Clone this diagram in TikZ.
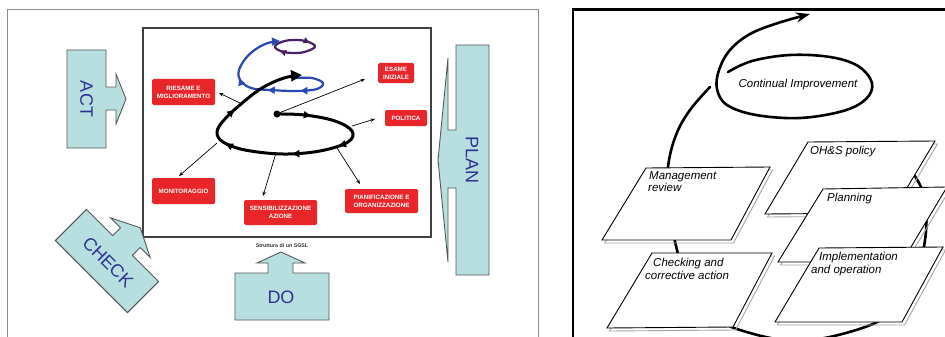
\documentclass[tikz,border=0pt]{standalone}
\usepackage{fontspec}
\setmainfont{Liberation Sans}
\usetikzlibrary{arrows.meta,decorations.markings}
\definecolor{tealfill}{RGB}{184,223,223}
\definecolor{shapeedge}{RGB}{85,85,85}
\definecolor{pdcablue}{RGB}{46,49,146}
\definecolor{labelred}{RGB}{232,38,42}
\definecolor{spiralblue}{RGB}{40,72,180}
\definecolor{spiralpurple}{RGB}{72,30,100}
\begin{document}
\begin{tikzpicture}[x=1pt,y=-1pt,
  pdca/.style={fill=tealfill,draw=shapeedge,line width=0.9pt,line join=miter},
  pdcatext/.style={text=pdcablue,font=\fontsize{18}{18}\selectfont,inner sep=0pt},
  redlabel/.style={fill=labelred,text=white,rounded corners=1.5pt,
    font=\fontsize{6.2}{7.8}\selectfont\bfseries,align=center,inner sep=0pt},
  thinarrow/.style={-{Stealth[length=4.5pt,width=3.5pt]},line width=0.7pt},
  spiral/.style={line width=3pt,line cap=round,line join=round},
  bluepath/.style={draw=spiralblue,line width=2.2pt,line cap=round,line join=round},
  loopline/.style={line width=2.6pt,line cap=round},
  panelbox/.style={draw=black,fill=white,line width=0.9pt,line join=miter},
  boxshadow/.style={draw=black!35,line width=0.9pt},
  paneltext/.style={font=\fontsize{11.5}{13}\selectfont\itshape,align=left,
    anchor=north west,inner sep=0pt},
  midtip/.style={decoration={markings,mark=at position #1 with {\arrow{Triangle[length=6pt,width=6pt]}}},postaction={decorate}}
]
\useasboundingbox (0,0) rectangle (945,337);
\fill[white] (0,0) rectangle (945,337);

% ---------------- left panel ----------------
\draw[draw=black!45,line width=0.8pt] (7,345) -- (7,9.3) -- (538,9.3) -- (538,345);
\node[draw=black!75,line width=1.2pt,minimum width=288pt,minimum height=209pt,inner sep=0pt] (sgsl) at (287,132.5) {};
\node[font=\fontsize{5.3}{6}\selectfont\bfseries,text=black!80,inner sep=0pt] (sgsltitle) at (282,245.5) {Struttura di un SGSL};

% PDCA shapes
\draw[pdca] (67,50) -- (106,50) -- (106,87) -- (116,87) -- (116,74) -- (126,99) -- (116,124) -- (116,110) -- (106,110) -- (106,148) -- (67,148) -- cycle;
\node[pdcatext,rotate=-90] (act) at (86.5,99) {ACT};

\draw[pdca] (456,45) -- (489,45) -- (489,275) -- (456,275) -- (456,188) -- (448,188) -- (448,262) -- (438,160) -- (448,58) -- (448,130) -- (456,130) -- cycle;
\node[pdcatext,rotate=-90] (plan) at (472,160) {PLAN};

\draw[pdca] (235,273) -- (268,273) -- (268,263) -- (257,263) -- (281,252) -- (305,263) -- (293,263) -- (293,273) -- (329,273) -- (329,320) -- (235,320) -- cycle;
\node[pdcatext] (do) at (281,297) {DO};

\begin{scope}[shift={(107,261)},rotate=45]
\draw[pdca] (-22,-51) -- (22,-51) -- (22,-14) -- (33,-14) -- (33,-28) -- (47,0) -- (33,28) -- (33,14) -- (22,14) -- (22,51) -- (-22,51) -- cycle;
\end{scope}
\node[pdcatext,rotate=-45] (check) at (108,262) {CHECK};

% red labels
\node[redlabel,minimum width=63pt,minimum height=26pt] (riesame) at (183.5,92) {RIESAME E\\MIGLIORAMENTO};
\node[redlabel,minimum width=36pt,minimum height=20pt] (esame) at (396,73) {ESAME\\INIZIALE};
\node[redlabel,minimum width=42pt,minimum height=16pt] (politica) at (406,118) {POLITICA};
\node[redlabel,minimum width=63pt,minimum height=26pt] (monitor) at (183.5,191) {MONITORAGGIO};
\node[redlabel,minimum width=73pt,minimum height=25pt] (sensib) at (280.5,212.5) {SENSIBILIZZAZIONE\\AZIONE};
\node[redlabel,minimum width=73pt,minimum height=24pt] (pianif) at (381.5,201) {PIANIFICAZIONE E\\ORGANIZZAZIONE};

% purple small loop
\draw[draw=spiralpurple,line width=2.2pt,
  decoration={markings,
    mark=at position 0.3 with {\arrow{Triangle[length=6pt,width=6pt]}},
    mark=at position 0.8 with {\arrow{Triangle[length=6pt,width=6pt]}}},postaction={decorate}]
  plot[smooth cycle,tension=0.7] coordinates {(315,46.5) (306,51.5) (295,53) (282,51.5) (275,46.5) (283,41.5) (295,40) (307,41.5)};

% blue loop
\draw[bluepath,-{Triangle[length=8pt,width=8pt]},
  decoration={markings,
    mark=at position 0.3 with {\arrow{Triangle[length=7pt,width=7pt]}},
    mark=at position 0.48 with {\arrow{Triangle[length=7pt,width=7pt]}},
    mark=at position 0.66 with {\arrow{Triangle[length=7pt,width=7pt]}}},postaction={decorate}]
  plot[smooth,tension=0.6] coordinates {(296,78) (312,78) (323,83) (317,89) (297,91) (270,90) (251,88) (240,80) (239,70) (246,58) (256,49) (268,43) (280,41)};

% black spiral
\draw[spiral,-{Triangle[length=11pt,width=11pt]},
  decoration={markings,
    mark=at position 0.1 with {\arrow{Triangle[length=7pt,width=7pt]}},
    mark=at position 0.3 with {\arrow{Triangle[length=7pt,width=7pt]}},
    mark=at position 0.44 with {\arrow{Triangle[length=7pt,width=7pt]}},
    mark=at position 0.64 with {\arrow{Triangle[length=7pt,width=7pt]}},
    mark=at position 0.77 with {\arrow{Triangle[length=7pt,width=7pt]}}},postaction={decorate}]
  plot[smooth,tension=0.6] coordinates {(277,114) (305,115) (335,121) (352,131) (348,142) (320,151) (283,154) (245,150) (223,142) (217,132) (224,120) (241,104) (262,88) (284,78) (302,75)};
\node[circle,fill=black,inner sep=0pt,minimum size=7pt] (spstart) at (277,114) {};

% thin arrows to labels
\coordinate (sR) at (240,103); \coordinate (eR) at (219,93);
\coordinate (sE) at (279,113); \coordinate (eE) at (365,79);
\coordinate (sP) at (352,126); \coordinate (eP) at (375,119);
\coordinate (sO) at (337,148); \coordinate (eO) at (360,184);
\coordinate (sS) at (276,153); \coordinate (eS) at (263,196);
\coordinate (sM) at (217,143); \coordinate (eM) at (179,176);
\draw[thinarrow] (sR) -- (eR);
\draw[thinarrow] (sE) -- (eE);
\draw[thinarrow] (sP) -- (eP);
\draw[thinarrow] (sO) -- (eO);
\draw[thinarrow] (sS) -- (eS);
\draw[thinarrow] (sM) -- (eM);

% ---------------- right panel ----------------
\draw[line width=2.2pt] (573,345) -- (573,9.5) -- (960,9.5);

% big loop behind boxes
\draw[loopline] plot[smooth,tension=0.6] coordinates {(885,150) (905,165) (920,185) (926,212) (925,240) (917,275) (898,305) (868,326) (800,341) (737,329) (705,310) (686,280) (677,250) (668,205) (668,167) (676,135) (690,110) (710,87)};

% continual improvement spiral
\draw[loopline,-{Stealth[length=14pt,width=10pt]}] plot[smooth,tension=0.6] coordinates {(728,72) (752,61) (790,55) (830,57) (858,66) (872,83) (866,99) (843,111) (800,118) (756,115) (727,105) (717,89) (719,70) (730,50) (750,34) (778,23) (810,14)};
\node[font=\fontsize{11.5}{13}\selectfont\itshape,inner sep=0pt] (ci) at (798,85) {Continual Improvement};

% boxes
\draw[boxshadow] (648.5,171) -- (772.5,170) -- (733.5,243) -- (604.5,243) -- cycle;
\draw[panelbox] (646,168) -- (770,167) -- (731,240) -- (602,240) -- cycle;
\node[paneltext] (mgmt) at (649,171) {Management\\[-1pt]\hspace*{-1pt}review};

\draw[boxshadow] (654.5,256) -- (774.5,256) -- (735.5,330) -- (609.5,331) -- cycle;
\draw[panelbox] (652,253) -- (772,253) -- (733,327) -- (607,328) -- cycle;
\node[paneltext] (chk) at (645,258) {\hspace*{8pt}Checking and\\corrective action};

\draw[boxshadow] (810.5,145) -- (937.5,144) -- (894.5,216) -- (767.5,217) -- cycle;
\draw[panelbox] (808,142) -- (935,141) -- (892,213) -- (765,214) -- cycle;
\node[paneltext] (ohs) at (810,146) {OH\&S policy};

\draw[boxshadow] (825.5,192) -- (949.5,190) -- (904.5,265) -- (780.5,265) -- cycle;
\draw[panelbox] (823,189) -- (947,187) -- (902,262) -- (778,262) -- cycle;
\node[paneltext] (plng) at (827,193) {Planning};

\draw[boxshadow] (821.5,251) -- (945.5,250) -- (904.5,325) -- (777.5,325) -- cycle;
\draw[panelbox] (819,248) -- (943,247) -- (902,322) -- (775,322) -- cycle;
\node[paneltext] (impl) at (811,252) {\hspace*{8pt}Implementation\\and operation};

\end{tikzpicture}
\end{document}
